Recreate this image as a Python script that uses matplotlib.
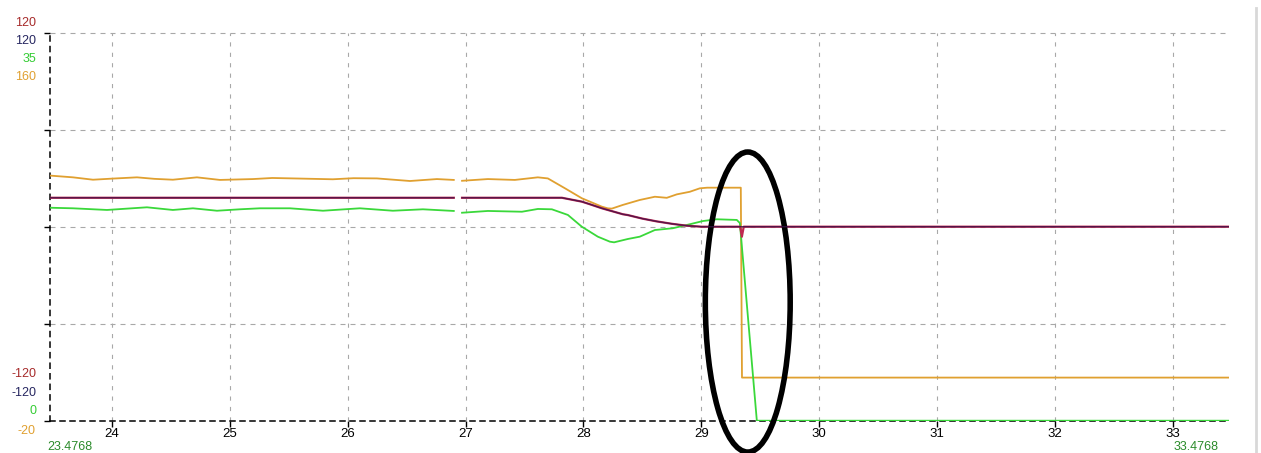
import matplotlib
matplotlib.use('Agg')
import matplotlib.pyplot as plt
import numpy as np
from matplotlib.patches import Ellipse
from matplotlib.lines import Line2D

plt.rcParams['font.family'] = ['Liberation Sans', 'DejaVu Sans']
plt.rcParams['lines.scale_dashes'] = False

nan = np.nan

# janela de tempo (s)
t_start = 23.4768
t_end = 33.4768
x_ticks = [24, 25, 26, 27, 28, 29, 30, 31, 32, 33]

# escalas de cada canal (topo, fundo)
red_range = [120, -120]
blue_range = [120, -120]
green_range = [35, 0]
orange_range = [160, -20]

# canal laranja
orange_t = [23.4768, 23.669, 23.839, 24.0, 24.212, 24.36, 24.517, 24.721, 24.916, 25.196,
            25.36, 25.535, 25.874, 26.05, 26.248, 26.528, 26.757, 26.9, nan, 26.97,
            27.189, 27.418, 27.613, 27.698, 27.85, 27.986, 28.156, 28.207, 28.241, 28.334,
            28.478, 28.606, 28.707, 28.792, 28.902, 28.987, 29.05, 29.335, 29.345, 33.4768]
orange_v = [93.7, 92.9, 91.8, 92.3, 92.9, 92.2, 91.8, 92.9, 91.7, 92.1,
            92.6, 92.4, 92.0, 92.5, 92.4, 91.2, 92.1, 91.7, nan, 91.3,
            92.1, 91.7, 92.9, 92.4, 87.6, 83.2, 79.3, 78.5, 78.4, 80.1,
            82.4, 83.9, 83.4, 85.0, 86.2, 87.8, 88.1, 88.1, 0.0, 0.0]

# canal verde
green_t = [23.4768, 23.669, 23.958, 24.297, 24.517, 24.687, 24.891, 25.086, 25.255, 25.510,
           25.790, 26.103, 26.383, 26.638, 26.9, nan, 26.97, 27.189, 27.478, 27.613,
           27.732, 27.868, 27.986, 28.122, 28.224, 28.26, 28.376, 28.478, 28.606, 28.758,
           28.902, 29.013, 29.131, 29.301, 29.327, 29.471, 33.4768]
green_v = [19.21, 19.16, 19.01, 19.25, 19.01, 19.16, 18.94, 19.07, 19.16, 19.16,
           18.94, 19.16, 18.94, 19.07, 18.92, nan, 18.76, 18.92, 18.85, 19.10,
           19.07, 18.56, 17.50, 16.60, 16.15, 16.09, 16.39, 16.60, 17.20, 17.36,
           17.72, 18.01, 18.17, 18.11, 17.83, 0.0, 0.0]

# canal vermelho
red_t = [23.4768, 26.9, nan, 26.97, 27.817, 27.986, 28.054, 28.156, 28.334, 28.376,
         28.5, 28.62, 28.75, 28.877, 29.0, 29.33, 29.344, 29.36, 33.4768]
red_v = [17.9, 17.9, nan, 17.9, 17.9, 15.5, 13.9, 11.4, 7.7, 7.2,
         5.0, 3.3, 1.8, 0.6, 0.0, 0.0, -6.2, 0.0, 0.0]

# canal azul
blue_t = [23.4768, 26.9, nan, 26.97, 27.817, 27.986, 28.054, 28.156, 28.334, 28.376,
          28.5, 28.62, 28.75, 28.877, 29.0, 33.4768]
blue_v = [17.9, 17.9, nan, 17.9, 17.9, 15.5, 13.9, 11.4, 7.7, 7.2,
          5.0, 3.3, 1.8, 0.6, 0.0, 0.0]

red_c = '#a62a2a'
blue_c = '#262660'
green_c = '#33cc33'
orange_c = '#e0a030'

W, H = 1261, 453
fig = plt.figure(figsize=(W / 100, H / 100), dpi=100)
fig.patch.set_facecolor('white')
ax = fig.add_axes([50.3 / W, 32.3 / H, (1229 - 50.3) / W, 388 / H])
ax.set_xlim(t_start, t_end)
ax.set_ylim(red_range[1], red_range[0])
ax.set_xticks(x_ticks)
ax.set_yticks(np.linspace(red_range[1], red_range[0], 5))
ax.set_yticklabels([])
ax.tick_params(axis='x', length=4, width=1, color='black', labelsize=9.5, pad=1)
ax.tick_params(axis='y', length=4, width=1, color='black')

# grade
for xt in x_ticks:
    ax.axvline(xt, color='#a8a8a8', lw=0.8, ls=(0, (3, 4.5)), zorder=0)
for yt in [60, 0, -60, 120]:
    ax.axhline(yt, color='#a8a8a8', lw=0.8, ls=(0, (3.6, 3.6)), zorder=0, clip_on=False)

for s in ['top', 'right']:
    ax.spines[s].set_visible(False)
ax.spines['left'].set_linestyle((0, (3.6, 4)))
ax.spines['bottom'].set_linestyle((0, (3.6, 3.6)))
ax.spines['left'].set_linewidth(1.1)
ax.spines['bottom'].set_linewidth(1.1)

ax_orange = ax.twinx()
ax_orange.set_ylim(orange_range[1], orange_range[0])
ax_green = ax.twinx()
ax_green.set_ylim(green_range[1], green_range[0])
ax_red = ax.twinx()
ax_red.set_ylim(red_range[1], red_range[0])
ax_blue = ax.twinx()
ax_blue.set_ylim(blue_range[1], blue_range[0])
for a in [ax_orange, ax_green, ax_red, ax_blue]:
    a.axis('off')

ax_orange.plot(orange_t, orange_v, color=orange_c, lw=1.3)
ax_green.plot(green_t, green_v, color='#3ad83a', lw=1.3)
ax_red.plot(red_t, red_v, color='#c02850', lw=1.6)
ax_blue.plot(blue_t, blue_v, color='#3a1048', lw=1.0, alpha=0.8)

# marcação
ax_blue.add_patch(Ellipse((29.394, -46.6), width=0.72, height=185.6, fill=False,
                          lw=4, ec='black', clip_on=False))

# rótulos das escalas
top_cols = [red_c, blue_c, green_c, orange_c]
top_vals = [red_range[0], blue_range[0], green_range[0], orange_range[0]]
bot_vals = [red_range[1], blue_range[1], green_range[1], orange_range[1]]
top_y = [23, 41, 59.5, 77.5]
bot_y = [374, 392.5, 411, 431]
for c, v, y in zip(top_cols, top_vals, top_y):
    fig.text(36 / W, 1 - y / H, str(v), color=c, ha='right', va='center', fontsize=9)
for c, v, y in zip(top_cols, bot_vals, bot_y):
    fig.text(36 / W, 1 - y / H, str(v), color=c, ha='right', va='center', fontsize=9)

fig.text(47 / W, 1 - 447.5 / H, '%.4f' % t_start, color='#2a8a2a', ha='left', va='center', fontsize=9)
fig.text(1219 / W, 1 - 447.5 / H, '%.4f' % t_end, color='#2a8a2a', ha='right', va='center', fontsize=9)

fig.add_artist(Line2D([1256 / W, 1256 / W], [0, 1 - 8 / H], transform=fig.transFigure,
                      color='#d8d8d8', lw=2))

fig.savefig('out.png', dpi=100)
